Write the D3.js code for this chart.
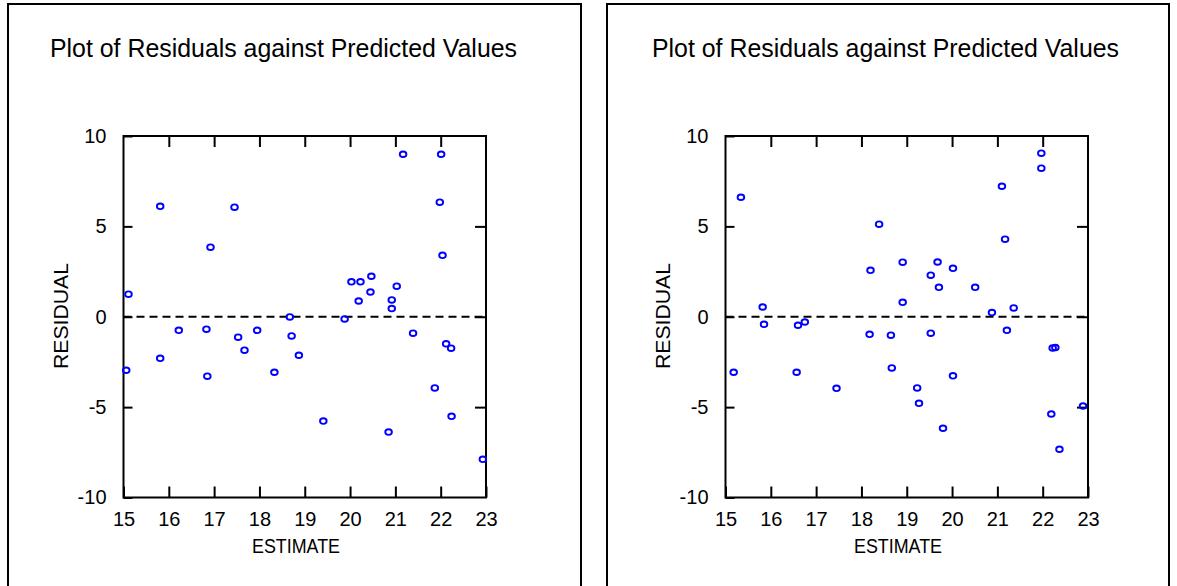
<!DOCTYPE html>
<html>
<head>
<meta charset="utf-8">
<script src="https://cdn.jsdelivr.net/npm/d3@7"></script>
<style>
  html, body { margin: 0; padding: 0; background: #fff; }
  svg { display: block; font-family: "Liberation Sans", Arial, sans-serif; }
</style>
</head>
<body>
<svg id="chart" width="1177" height="586"></svg>
<script>
const chartTitle = "Plot of Residuals against Predicted Values";
const xLabel = "ESTIMATE";
const yLabel = "RESIDUAL";
const xTicks = [15, 16, 17, 18, 19, 20, 21, 22, 23];
const yTicks = [-10, -5, 0, 5, 10];

const leftEstimate = [15.81, 17.45, 16.92, 15.11, 21.17, 22.01, 21.98, 22.04, 20.03, 20.23,
  20.47, 20.45, 20.19, 21.03, 20.92, 20.92, 15.06, 15.81, 16.22, 16.83,
  16.85, 17.53, 17.67, 17.95, 18.67, 18.71, 18.87, 18.33, 19.88, 21.39,
  22.12, 22.23, 21.87, 22.24, 19.41, 20.85, 22.93];
const leftResidual = [6.11, 6.06, 3.85, 1.25, 8.99, 8.99, 6.34, 3.40, 1.93, 1.93,
  2.24, 1.37, 0.87, 1.69, 0.93, 0.45, -2.96, -2.30, -0.75, -0.69,
  -3.29, -1.13, -1.85, -0.75, -0.01, -1.06, -2.13, -3.07, -0.12, -0.91,
  -1.50, -1.74, -3.94, -5.51, -5.77, -6.38, -7.89];

const rightEstimate = [15.34, 18.39, 18.20, 18.91, 18.91, 15.82, 21.97, 21.97, 21.10, 21.17,
  19.68, 20.02, 19.53, 19.71, 20.51, 20.88, 21.36, 15.85, 15.18, 16.60,
  16.75, 16.57, 17.45, 18.18, 18.65, 18.67, 19.53, 21.21, 22.22, 22.28,
  20.02, 19.23, 19.27, 19.80, 22.19, 22.89, 22.37];
const rightResidual = [6.61, 5.12, 2.57, 3.02, 0.80, 0.54, 9.05, 8.22, 7.22, 4.29,
  3.03, 2.68, 2.30, 1.63, 1.63, 0.23, 0.49, -0.42, -3.07, -0.47,
  -0.29, -3.07, -3.96, -0.97, -1.02, -2.83, -0.91, -0.75, -1.73, -1.70,
  -3.27, -3.94, -4.79, -6.17, -5.38, -4.94, -7.33];

const svg = d3.select("#chart");

const panels = [
  { offset: 0, boxLeft: 8, boxRight: 581, xs: leftEstimate, ys: leftResidual },
  { offset: 602, boxLeft: 607, boxRight: 1169, xs: rightEstimate, ys: rightResidual }
];

const fmt = d => String(d);

panels.forEach(p => {
  const g = svg.append("g");
  // outer panel frame (open at bottom)
  g.append("path")
    .attr("d", `M${p.boxLeft},586 V4 H${p.boxRight} V586`)
    .attr("fill", "none").attr("stroke", "#000").attr("stroke-width", 2);

  g.append("text")
    .attr("x", 50 + p.offset).attr("y", 57)
    .attr("font-size", 26)
    .attr("textLength", 467).attr("lengthAdjust", "spacingAndGlyphs")
    .text(chartTitle);

  const x0 = 123.5 + p.offset, x1 = 486 + p.offset;
  const y0 = 497.5, y1 = 136;
  const x = d3.scaleLinear().domain([15, 23]).range([x0, x1]);
  const y = d3.scaleLinear().domain([-10, 10]).range([y0, y1]);

  const axStyle = sel => {
    sel.select(".domain").remove();
    sel.selectAll("line").attr("stroke", "#000").attr("stroke-width", 2);
    sel.selectAll("text").attr("fill", "#000").attr("font-family", "Liberation Sans, Arial, sans-serif");
  };

  // bottom axis: ticks inward
  g.append("g").attr("transform", `translate(0,${y0})`)
    .call(d3.axisBottom(x).tickValues(xTicks).tickSize(-11).tickPadding(14).tickFormat(fmt))
    .call(axStyle)
    .call(s => s.selectAll("text").attr("font-size", 20));
  // top axis
  g.append("g").attr("transform", `translate(0,${y1})`)
    .call(d3.axisTop(x).tickValues(xTicks.slice(1, -1)).tickSize(-11).tickFormat(""))
    .call(axStyle);
  // left axis
  g.append("g").attr("transform", `translate(${x0},0)`)
    .call(d3.axisLeft(y).tickValues(yTicks).tickSize(-9).tickPadding(17).tickFormat(fmt))
    .call(axStyle)
    .call(s => s.selectAll("text").attr("font-size", 20));
  // right axis
  g.append("g").attr("transform", `translate(${x1},0)`)
    .call(d3.axisRight(y).tickValues(yTicks.slice(1, -1)).tickSize(-11).tickFormat(""))
    .call(axStyle);

  // frame
  g.append("rect")
    .attr("x", x0).attr("y", y1).attr("width", x1 - x0).attr("height", y0 - y1)
    .attr("fill", "none").attr("stroke", "#000").attr("stroke-width", 2);

  // zero reference line
  g.append("line")
    .attr("x1", x0).attr("x2", x1).attr("y1", y(0)).attr("y2", y(0))
    .attr("stroke", "#000").attr("stroke-width", 2).attr("stroke-dasharray", "8,5");

  // labels
  g.append("text")
    .attr("x", 296 + p.offset).attr("y", 553)
    .attr("text-anchor", "middle").attr("font-size", 21)
    .attr("textLength", 88).attr("lengthAdjust", "spacingAndGlyphs")
    .text(xLabel);
  g.append("text")
    .attr("transform", `translate(${68 + p.offset},316) rotate(-90)`)
    .attr("text-anchor", "middle").attr("font-size", 21)
    .attr("textLength", 106).attr("lengthAdjust", "spacingAndGlyphs")
    .text(yLabel);

  // points
  g.append("g").selectAll("ellipse")
    .data(p.xs.map((v, i) => [v, p.ys[i]]))
    .join("ellipse")
    .attr("cx", d => x(d[0])).attr("cy", d => y(d[1]))
    .attr("rx", 3.3).attr("ry", 2.8)
    .attr("fill", "none").attr("stroke", "#0000ff").attr("stroke-width", 1.9);
});
</script>
</body>
</html>
